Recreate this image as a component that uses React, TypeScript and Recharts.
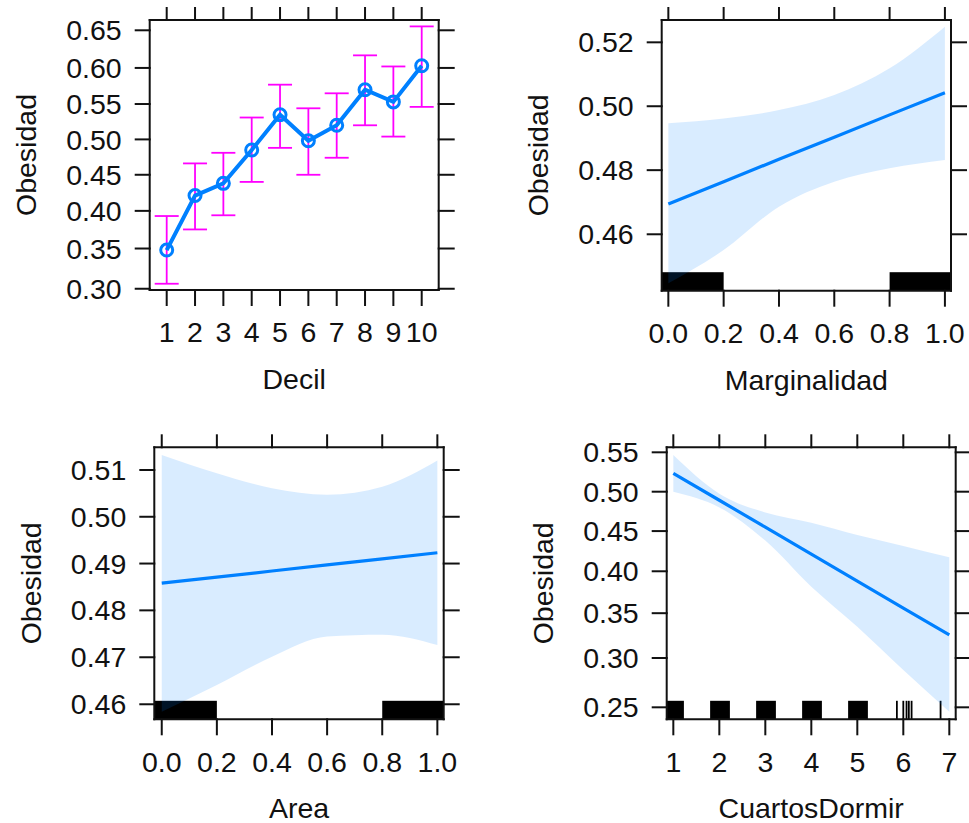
import {
  ComposedChart,
  Line,
  Area,
  XAxis,
  YAxis,
  ErrorBar,
  ReferenceArea,
  ReferenceLine,
} from "recharts";

const W = 969;
const H = 823;
const FONT = '"Liberation Sans", Arial, Helvetica, sans-serif';
const BLUE = "#0080FF";
const MAGENTA = "#FF00FF";
const INK = "#111";
const RUG_H = 18.5;

// Decil panel (point estimates with error bars)
const decil = [1, 2, 3, 4, 5, 6, 7, 8, 9, 10];
const decilFit = [0.348, 0.421, 0.438, 0.485, 0.535, 0.498, 0.52, 0.57, 0.553, 0.603];
const decilLower = [0.306, 0.375, 0.394, 0.44, 0.488, 0.45, 0.474, 0.52, 0.504, 0.546];
const decilUpper = [0.393, 0.466, 0.481, 0.531, 0.577, 0.544, 0.565, 0.617, 0.602, 0.655];
const decilYTicks = [0.3, 0.35, 0.4, 0.45, 0.5, 0.55, 0.6, 0.65];

// Marginalidad panel
const unitX = [0, 0.2, 0.4, 0.6, 0.8, 1.0];
const margFit = [0.4694, 0.4764, 0.4834, 0.4903, 0.4973, 0.5042];
const margLower = [0.4448, 0.4551, 0.4686, 0.4764, 0.4806, 0.4832];
const margUpper = [0.4947, 0.4962, 0.4988, 0.5035, 0.5119, 0.5249];
const margYTicks = [0.46, 0.48, 0.5, 0.52];
const margRug = [
  [-0.05, 0.2],
  [0.8, 1.05],
];

// Area panel
const areaFit = [0.4858, 0.4871, 0.4884, 0.4897, 0.491, 0.4923];
const areaLower = [0.4584, 0.4641, 0.4701, 0.4744, 0.4748, 0.4726];
const areaUpper = [0.5132, 0.5093, 0.5061, 0.5047, 0.5064, 0.512];
const areaYTicks = [0.46, 0.47, 0.48, 0.49, 0.5, 0.51];
const areaRug = [
  [-0.05, 0.2],
  [0.8, 1.05],
];

// CuartosDormir panel
const cuartos = [1, 2, 3, 4, 5, 6, 7];
const cuartosFit = [0.5234, 0.4891, 0.4549, 0.4211, 0.3881, 0.356, 0.3252];
const cuartosLower = [0.5, 0.48, 0.438, 0.3813, 0.3345, 0.2873, 0.2458];
const cuartosUpper = [0.5466, 0.4975, 0.4735, 0.4606, 0.4451, 0.4313, 0.4172];
const cuartosYTicks = [0.25, 0.3, 0.35, 0.4, 0.45, 0.5, 0.55];
const cuartosRug = [
  [0.8, 1.23],
  [1.8, 2.23],
  [2.8, 3.23],
  [3.8, 4.23],
  [4.8, 5.23],
];
const cuartosRugLines = [5.86, 6.0, 6.07, 6.12, 6.18, 6.81];

const logit = (p: number) => Math.log(p / (1 - p));
const invLogit = (v: number) => 1 / (1 + Math.exp(-v));

type Box = { left: number; top: number; right: number; bottom: number };

const BOX_DECIL: Box = { left: 149.7, top: 20, right: 438.7, bottom: 290 };
const BOX_MARG: Box = { left: 661.7, top: 20, right: 951, bottom: 290.7 };
const BOX_AREA: Box = { left: 154.3, top: 447.3, right: 443.7, bottom: 719.3 };
const BOX_CUARTOS: Box = { left: 666.7, top: 447.3, right: 955.7, bottom: 719.3 };

const decilData = decil.map((x, i) => {
  const f = logit(decilFit[i]);
  return {
    x,
    fit: f,
    err: [f - logit(decilLower[i]), logit(decilUpper[i]) - f],
  };
});

function bandData(xs: number[], fit: number[], lo: number[], hi: number[]) {
  return xs.map((x, i) => ({
    x,
    fit: logit(fit[i]),
    band: [logit(lo[i]), logit(hi[i])],
  }));
}

const margData = bandData(unitX, margFit, margLower, margUpper);
const areaData = bandData(unitX, areaFit, areaLower, areaUpper);
const cuartosData = bandData(cuartos, cuartosFit, cuartosLower, cuartosUpper);

const axisLine = { stroke: INK, strokeWidth: 2, strokeLinecap: "square" as const };
const tickStyle = { fontSize: 28.5, fill: INK, fontFamily: FONT };
const AX = 1; // axis band thickness (must be > 0 for recharts to draw it)
const blank = () => "";

function frame(
  xDomain: number[],
  xTicks: number[],
  xFmt: (v: number) => string,
  yDomain: number[],
  yTicks: number[]
) {
  const yt = yTicks.map(logit);
  return [
    <XAxis
      key="xb"
      xAxisId="b"
      type="number"
      dataKey="x"
      domain={xDomain}
      ticks={xTicks}
      tickFormatter={xFmt}
      allowDataOverflow
      interval={0}
      height={AX}
      tickSize={15}
      tickMargin={17}
      axisLine={axisLine}
      tickLine={axisLine}
      tick={tickStyle}
    />,
    <XAxis
      key="xt"
      xAxisId="t"
      orientation="top"
      type="number"
      dataKey="x"
      domain={xDomain}
      ticks={xTicks}
      tickFormatter={blank}
      allowDataOverflow
      interval={0}
      height={AX}
      tickSize={12}
      axisLine={axisLine}
      tickLine={axisLine}
      tick={tickStyle}
    />,
    <YAxis
      key="yl"
      yAxisId="l"
      type="number"
      domain={yDomain}
      ticks={yt}
      tickFormatter={(v: number) => invLogit(v).toFixed(2)}
      allowDataOverflow
      interval={0}
      width={AX}
      tickSize={14}
      tickMargin={14}
      axisLine={axisLine}
      tickLine={axisLine}
      tick={tickStyle}
    />,
    <YAxis
      key="yr"
      yAxisId="r"
      orientation="right"
      type="number"
      domain={yDomain}
      ticks={yt}
      tickFormatter={blank}
      allowDataOverflow
      interval={0}
      width={AX}
      tickSize={15}
      axisLine={axisLine}
      tickLine={axisLine}
      tick={tickStyle}
    />,
    // invisible series so the mirrored top/right axes get a scale
    <Line
      key="ghost"
      xAxisId="t"
      yAxisId="r"
      dataKey="fit"
      stroke="none"
      dot={false}
      activeDot={false}
      legendType="none"
      isAnimationActive={false}
    />,
  ];
}

const rugBlock = (p: any) => (
  <rect
    x={p.x}
    y={p.y + p.height - RUG_H}
    width={p.width}
    height={RUG_H}
    fill="#000"
    clipPath={p.clipPath}
  />
);

const rugTick = (p: any) => {
  const yb = Math.max(p.y1, p.y2);
  return <line x1={p.x1} x2={p.x1} y1={yb} y2={yb - RUG_H} stroke="#000" strokeWidth={1.8} />;
};

const margins = (b: Box) => ({
  top: b.top - AX,
  left: b.left - AX,
  right: W - b.right - AX,
  bottom: H - b.bottom - AX,
});

const layer: React.CSSProperties = { position: "absolute", left: 0, top: 0 };

const fmt1 = (v: number) => v.toFixed(1);
const fmt0 = (v: number) => String(v);

function BandPanel({
  box,
  data,
  xDomain,
  xTicks,
  xFmt,
  yDomain,
  yTicks,
  rug,
  rugLines = [],
}: {
  box: Box;
  data: Array<Record<string, any>>;
  xDomain: number[];
  xTicks: number[];
  xFmt: (v: number) => string;
  yDomain: number[];
  yTicks: number[];
  rug: number[][];
  rugLines?: number[];
}) {
  return (
    <div style={layer}>
      <ComposedChart width={W} height={H} data={data} margin={margins(box)}>
        {frame(xDomain, xTicks, xFmt, yDomain, yTicks)}
        {rug.map(([a, b], i) => (
          <ReferenceArea
            key={`rug${i}`}
            xAxisId="b"
            yAxisId="l"
            x1={a}
            x2={b}
            ifOverflow="hidden"
            shape={rugBlock}
            zIndex={50}
          />
        ))}
        {rugLines.map((v, i) => (
          <ReferenceLine key={`rl${i}`} xAxisId="b" yAxisId="l" x={v} shape={rugTick} zIndex={50} />
        ))}
        <Area
          xAxisId="b"
          yAxisId="l"
          dataKey="band"
          type="monotone"
          fill={BLUE}
          fillOpacity={0.15}
          stroke="none"
          isAnimationActive={false}
        />
        <Line
          xAxisId="b"
          yAxisId="l"
          dataKey="fit"
          type="linear"
          stroke={BLUE}
          strokeWidth={3.2}
          dot={false}
          isAnimationActive={false}
        />
      </ComposedChart>
    </div>
  );
}

function Titles() {
  const items: Array<[Box, string]> = [
    [BOX_DECIL, "Decil"],
    [BOX_MARG, "Marginalidad"],
    [BOX_AREA, "Area"],
    [BOX_CUARTOS, "CuartosDormir"],
  ];
  return (
    <svg width={W} height={H} style={layer}>
      {items.map(([b, label]) => (
        <g key={label} fontFamily={FONT} fontSize={28.5} fill={INK}>
          <text x={(b.left + b.right) / 2} y={b.bottom + 99} textAnchor="middle">
            {label}
          </text>
          <text
            transform={`translate(${b.left - 113.5}, ${(b.top + b.bottom) / 2}) rotate(-90)`}
            textAnchor="middle"
          >
            Obesidad
          </text>
        </g>
      ))}
    </svg>
  );
}

export default function App() {
  return (
    <div style={{ position: "absolute", left: 0, top: 0, width: W, height: H, background: "#fff" }}>
      <div style={layer}>
        <ComposedChart width={W} height={H} data={decilData} margin={margins(BOX_DECIL)}>
          {frame([0.4, 10.6], decil, fmt0, [-0.8544, 0.6774], decilYTicks)}
          <Line
            xAxisId="b"
            yAxisId="l"
            dataKey="fit"
            type="linear"
            stroke={BLUE}
            strokeWidth={4}
            dot={{ r: 6, stroke: BLUE, strokeWidth: 3, fill: "none" }}
            isAnimationActive={false}
          >
            <ErrorBar dataKey="err" direction="y" width={12} stroke={MAGENTA} strokeWidth={1.8} />
          </Line>
        </ComposedChart>
      </div>
      <BandPanel
        box={BOX_MARG}
        data={margData}
        xDomain={[-0.024, 1.022]}
        xTicks={unitX}
        xFmt={fmt1}
        yDomain={[-0.231, 0.108]}
        yTicks={margYTicks}
        rug={margRug}
      />
      <BandPanel
        box={BOX_AREA}
        data={areaData}
        xDomain={[-0.027, 1.023]}
        xTicks={unitX}
        xFmt={fmt1}
        yDomain={[-0.1732, 0.0594]}
        yTicks={areaYTicks}
        rug={areaRug}
      />
      <BandPanel
        box={BOX_CUARTOS}
        data={cuartosData}
        xDomain={[0.856, 7.139]}
        xTicks={cuartos}
        xFmt={fmt0}
        yDomain={[-1.1597, 0.2262]}
        yTicks={cuartosYTicks}
        rug={cuartosRug}
        rugLines={cuartosRugLines}
      />
      <Titles />
    </div>
  );
}
